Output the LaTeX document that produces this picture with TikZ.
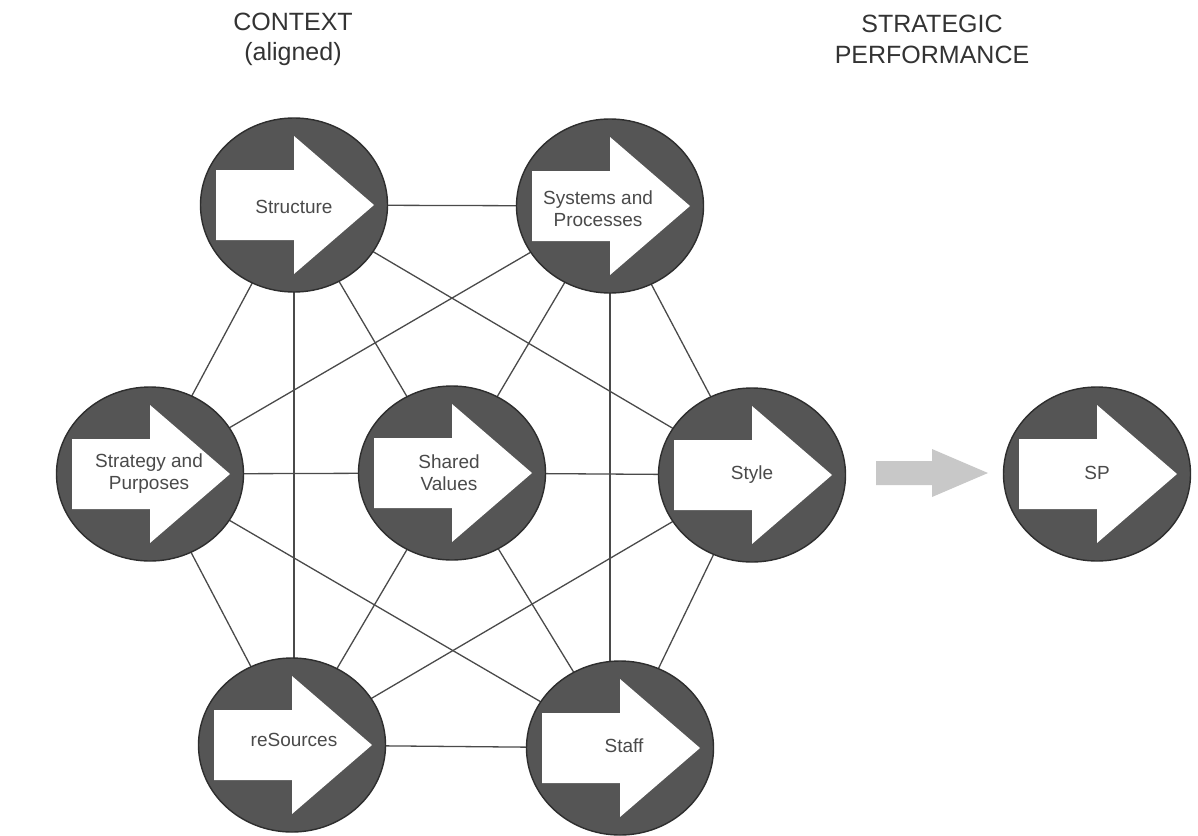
\documentclass[tikz,border=0pt]{standalone}
\usepackage{fontspec}
\setmainfont{Liberation Sans}
\usetikzlibrary{shapes.geometric}
\pgfdeclarelayer{bg}
\pgfdeclarelayer{edges}
\pgfsetlayers{bg,edges,main}
\definecolor{discfill}{HTML}{555555}
\definecolor{discedge}{HTML}{2E2E2E}
\definecolor{edgecol}{HTML}{4A4A4A}
\definecolor{labcol}{HTML}{4A4A4A}
\definecolor{titlecol}{HTML}{333333}
\definecolor{flowgray}{HTML}{C8C8C8}
\tikzset{
  disc/.style={ellipse, draw=discedge, fill=discfill, line width=1.4pt,
    minimum width=187pt, minimum height=174pt, inner sep=0pt},
  inarrow/.style={fill=white},
  lab/.style={text=labcol, align=center, inner sep=0pt,
    font=\fontsize{19}{22}\selectfont},
  title/.style={text=titlecol, anchor=base, inner sep=0pt,
    font=\fontsize{25}{30}\selectfont},
  link/.style={draw=edgecol, line width=1.3pt},
}
\newcommand\discarrow[1]{%
  \path[inarrow] ([shift={(-78,-35)}]#1.center) -- ([shift={(0,-35)}]#1.center)
    -- ([shift={(0,-69)}]#1.center) -- ([shift={(80,0)}]#1.center)
    -- ([shift={(0,69)}]#1.center) -- ([shift={(0,35)}]#1.center)
    -- ([shift={(-78,35)}]#1.center) -- cycle;}
\begin{document}
\begin{tikzpicture}[x=1pt,y=-1pt]
\begin{pgfonlayer}{bg}
\fill[white] (0,0) rectangle (1198,835);
\end{pgfonlayer}
\useasboundingbox (0,0) rectangle (1198,835);

% titles
\node[title] (ctxa) at (293,30) {CONTEXT};
\node[title] (ctxb) at (293,60) {(aligned)};
\node[title] (spa) at (932,32) {STRATEGIC};
\node[title] (spb) at (932,63) {PERFORMANCE};

% discs
\node[disc] (S1) at (294,205) {};
\node[disc] (S2) at (610,206) {};
\node[disc] (S3) at (150,474) {};
\node[disc] (S4) at (452,473) {};
\node[disc] (S5) at (752,475) {};
\node[disc] (S6) at (292,745) {};
\node[disc] (S7) at (620,748) {};
\node[disc] (SP) at (1097,474) {};

\foreach \n in {S1,S2,S3,S4,S5,S6,S7,SP}{\discarrow{\n}}

% labels
\node[lab] (L1) at ([shift={(0,2)}]S1.center) {Structure};
\node[lab] (L2) at ([shift={(-12,3)}]S2.center) {Systems and\\Processes};
\node[lab] (L3) at ([shift={(-1,0)}]S3.center) {Strategy and\\Purposes};
\node[lab] (L4) at ([shift={(-3,0)}]S4.center) {Shared\\Values};
\node[lab] (L5) at ([shift={(0,0)}]S5.center) {Style};
\node[lab] (L6) at ([shift={(2,-5)}]S6.center) {reSources};
\node[lab] (L7) at ([shift={(4,-2)}]S7.center) {Staff};
\node[lab] (L8) at ([shift={(0,-1)}]SP.center) {SP};

% flow arrow
\coordinate (fa) at (876,473);
\fill[flowgray] (fa) ++(0,-12) -- ++(56,0) -- ++(0,-12) -- ++(56,24)
  -- ++(-56,24) -- ++(0,-12) -- ++(-56,0) -- cycle;

% connectors
\begin{pgfonlayer}{edges}
\foreach \a/\b in {S1/S2,S1/S3,S1/S4,S1/S5,
                   S2/S3,S2/S4,S2/S5,
                   S3/S4,S3/S6,S3/S7,
                   S4/S5,S4/S6,S4/S7,
                   S5/S6,S5/S7,S6/S7}{
  \draw[link] (\a.center) -- (\b.center);
}
\draw[link] (S1.center) -- (S1.center |- S6.center);
\draw[link] (S2.center) -- (S2.center |- S7.center);
\end{pgfonlayer}
\end{tikzpicture}
\end{document}
